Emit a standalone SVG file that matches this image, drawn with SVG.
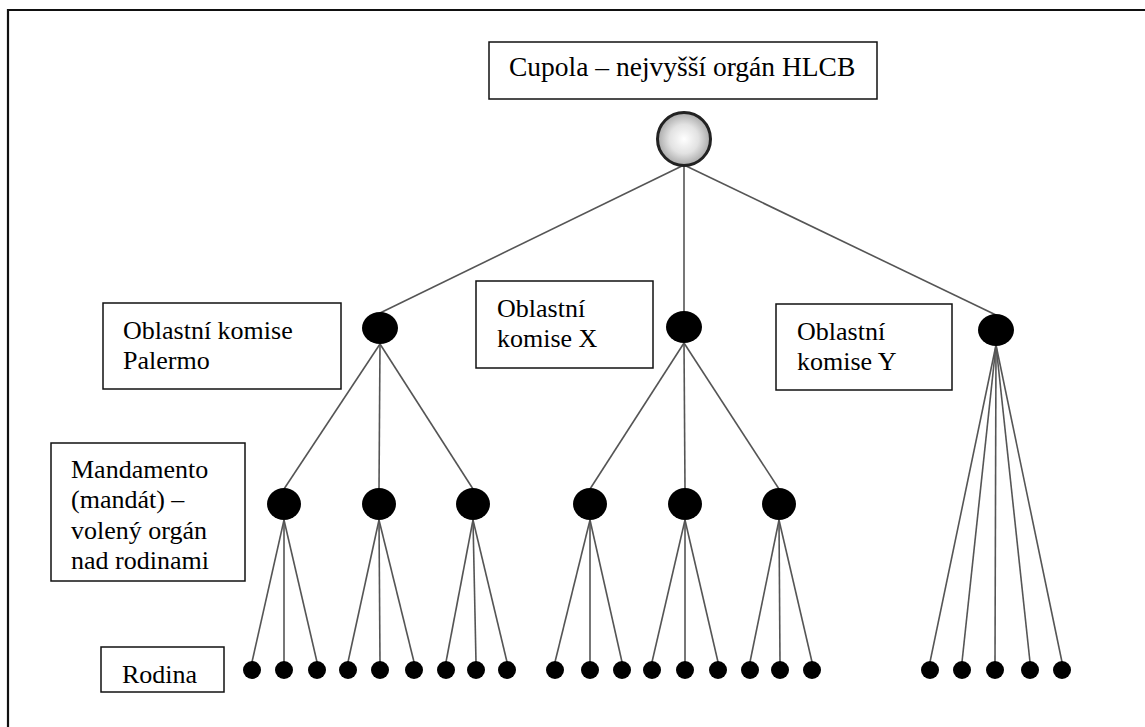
<svg xmlns="http://www.w3.org/2000/svg" width="1145" height="727" viewBox="0 0 1145 727">
<defs>
<radialGradient id="g" cx="0.5" cy="0.5" r="0.55">
<stop offset="0" stop-color="#ffffff"/>
<stop offset="0.5" stop-color="#e2e2e2"/>
<stop offset="1" stop-color="#9c9c9c"/>
</radialGradient>
<style>
.box{fill:#fff;stroke:#111;stroke-width:1.5}
.t{font-family:"Liberation Serif","Times New Roman",serif;font-size:26px;fill:#000}
.c line{stroke:#555;stroke-width:1.6}
.n{fill:#000}
</style>
</defs>
<rect width="1145" height="727" fill="#fff"/>
<path d="M8 730 V10 H1150" fill="none" stroke="#111" stroke-width="2.2"/>

<g class="c" id="connectors">
<line x1="684" y1="165" x2="380" y2="313"/>
<line x1="684" y1="165" x2="684" y2="312"/>
<line x1="684" y1="165" x2="996" y2="315"/>
<line x1="380" y1="344" x2="284" y2="489"/>
<line x1="380" y1="344" x2="379" y2="489"/>
<line x1="380" y1="344" x2="473" y2="489"/>
<line x1="684" y1="343" x2="590" y2="489"/>
<line x1="684" y1="343" x2="685" y2="489"/>
<line x1="684" y1="343" x2="779" y2="489"/>
<line x1="284" y1="520" x2="252" y2="662"/>
<line x1="284" y1="520" x2="284" y2="662"/>
<line x1="284" y1="520" x2="317" y2="662"/>
<line x1="379" y1="520" x2="348" y2="662"/>
<line x1="379" y1="520" x2="380" y2="662"/>
<line x1="379" y1="520" x2="414" y2="662"/>
<line x1="473" y1="520" x2="446" y2="662"/>
<line x1="473" y1="520" x2="476" y2="662"/>
<line x1="473" y1="520" x2="507" y2="662"/>
<line x1="590" y1="520" x2="555" y2="662"/>
<line x1="590" y1="520" x2="590" y2="662"/>
<line x1="590" y1="520" x2="622" y2="662"/>
<line x1="685" y1="520" x2="652" y2="662"/>
<line x1="685" y1="520" x2="685" y2="662"/>
<line x1="685" y1="520" x2="718" y2="662"/>
<line x1="779" y1="520" x2="750" y2="662"/>
<line x1="779" y1="520" x2="780" y2="662"/>
<line x1="779" y1="520" x2="812" y2="662"/>
<line x1="996" y1="345" x2="930" y2="662"/>
<line x1="996" y1="345" x2="962" y2="662"/>
<line x1="996" y1="345" x2="995" y2="662"/>
<line x1="996" y1="345" x2="1030" y2="662"/>
<line x1="996" y1="345" x2="1062" y2="662"/>
</g>

<g id="cupola">
<rect class="box" x="489" y="42" width="388" height="57"/>
<text class="t" x="509" y="76" style="font-size:27.5px">Cupola – nejvyšší orgán HLCB</text>
<circle cx="684" cy="139" r="26.5" fill="url(#g)" stroke="#222" stroke-width="3"/>
</g>

<g id="palermo">
<rect class="box" x="103" y="303" width="238" height="86"/>
<text class="t" x="123" y="339">Oblastní komise</text>
<text class="t" x="123" y="369">Palermo</text>
<ellipse class="n" cx="380" cy="328" rx="18" ry="16"/>
</g>

<g id="komiseX">
<rect class="box" x="476" y="281" width="177" height="87"/>
<text class="t" x="497" y="317">Oblastní</text>
<text class="t" x="497" y="347">komise X</text>
<ellipse class="n" cx="684" cy="327" rx="18" ry="16"/>
</g>

<g id="komiseY">
<rect class="box" x="776" y="304" width="176" height="86"/>
<text class="t" x="797" y="340">Oblastní</text>
<text class="t" x="797" y="370">komise Y</text>
<ellipse class="n" cx="996" cy="330" rx="18" ry="16"/>
</g>

<g id="mandamento">
<rect class="box" x="51" y="443" width="194" height="138"/>
<text class="t" x="71" y="478">Mandamento</text>
<text class="t" x="71" y="508">(mandát) –</text>
<text class="t" x="71" y="539">volený orgán</text>
<text class="t" x="71" y="569">nad rodinami</text>
</g>

<g id="mandamenta">
<ellipse class="n" cx="284" cy="504" rx="17" ry="16"/>
<ellipse class="n" cx="379" cy="504" rx="17" ry="16"/>
<ellipse class="n" cx="473" cy="504" rx="17" ry="16"/>
<ellipse class="n" cx="590" cy="504" rx="17" ry="16"/>
<ellipse class="n" cx="685" cy="504" rx="17" ry="16"/>
<ellipse class="n" cx="779" cy="504" rx="17" ry="16"/>
</g>

<g id="rodina">
<rect class="box" x="101" y="647" width="123" height="45"/>
<text class="t" x="122" y="683">Rodina</text>
</g>

<g id="rodiny">
<circle class="n" cx="252" cy="670" r="9"/>
<circle class="n" cx="284" cy="670" r="9"/>
<circle class="n" cx="317" cy="670" r="9"/>
<circle class="n" cx="348" cy="670" r="9"/>
<circle class="n" cx="380" cy="670" r="9"/>
<circle class="n" cx="414" cy="670" r="9"/>
<circle class="n" cx="446" cy="670" r="9"/>
<circle class="n" cx="476" cy="670" r="9"/>
<circle class="n" cx="507" cy="670" r="9"/>
<circle class="n" cx="555" cy="670" r="9"/>
<circle class="n" cx="590" cy="670" r="9"/>
<circle class="n" cx="622" cy="670" r="9"/>
<circle class="n" cx="652" cy="670" r="9"/>
<circle class="n" cx="685" cy="670" r="9"/>
<circle class="n" cx="718" cy="670" r="9"/>
<circle class="n" cx="750" cy="670" r="9"/>
<circle class="n" cx="780" cy="670" r="9"/>
<circle class="n" cx="812" cy="670" r="9"/>
<circle class="n" cx="930" cy="670" r="9"/>
<circle class="n" cx="962" cy="670" r="9"/>
<circle class="n" cx="995" cy="670" r="9"/>
<circle class="n" cx="1030" cy="670" r="9"/>
<circle class="n" cx="1062" cy="670" r="9"/>
</g>
</svg>
